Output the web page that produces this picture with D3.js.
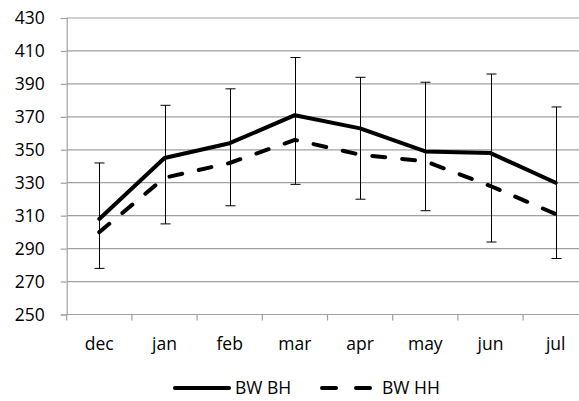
<!DOCTYPE html>
<html>
<head>
<meta charset="utf-8">
<script src="https://cdn.jsdelivr.net/npm/d3@7/dist/d3.min.js"></script>
<style>
  html, body { margin: 0; padding: 0; background: #fff; }
  svg { display: block; }
  text { font-family: "Open Sans", "Noto Sans", "Liberation Sans", sans-serif; fill: #000; }
</style>
</head>
<body>
<script>
// Monthly values for the two series and the whisker bounds per month
const months = ["dec", "jan", "feb", "mar", "apr", "may", "jun", "jul"];
const bwBH = [308, 345, 354, 371, 363, 349, 348, 330];
const bwHH = [300, 333, 342, 356, 347, 343, 328, 311];
const errHigh = [342, 377, 387, 406, 394, 391, 396, 376];
const errLow = [278, 305, 316, 329, 320, 313, 294, 284];
const yTicks = [250, 270, 290, 310, 330, 350, 370, 390, 410, 430];

const W = 579, H = 401;
const FONT = "'Open Sans', 'Noto Sans', sans-serif";
const FS = 17.5;
const svg = d3.select("body").append("svg").attr("width", W).attr("height", H);

const left = 66.7, bandW = 65.2;
const x = d3.scaleBand().domain(months).range([left, left + bandW * months.length]);
const y = d3.scaleLinear().domain([250, 430]).range([314.5, 18]);
const cx = m => x(m) + x.bandwidth() / 2;

// horizontal gridlines
svg.append("g").selectAll("line").data(yTicks.slice(1)).join("line")
  .attr("x1", left).attr("x2", W)
  .attr("y1", d => y(d)).attr("y2", d => y(d))
  .attr("stroke", "#a0a0a0").attr("stroke-width", 1.2);

// y axis
const yAxis = svg.append("g").attr("transform", `translate(${left},0)`)
  .call(d3.axisLeft(y).tickValues(yTicks).tickSize(6).tickPadding(16));
yAxis.select(".domain").attr("stroke", "#a0a0a0").attr("stroke-width", 1.2);
yAxis.selectAll(".tick line").attr("stroke", "#a0a0a0").attr("stroke-width", 1.2);
yAxis.selectAll("text").attr("font-size", FS).attr("font-family", FONT).attr("fill", "#111");

// x axis with ticks at category boundaries
const xAxisG = svg.append("g").attr("transform", `translate(0,${y(250)})`);
xAxisG.append("line").attr("x1", left).attr("x2", W).attr("y1", 0).attr("y2", 0)
  .attr("stroke", "#a0a0a0").attr("stroke-width", 1.2);
xAxisG.selectAll("line.tk").data(d3.range(months.length + 1)).join("line")
  .attr("class", "tk")
  .attr("x1", i => left + i * bandW).attr("x2", i => left + i * bandW)
  .attr("y1", 0).attr("y2", 6)
  .attr("stroke", "#a0a0a0").attr("stroke-width", 1.2);
xAxisG.selectAll("text").data(months).join("text")
  .attr("x", d => cx(d)).attr("y", 35)
  .attr("text-anchor", "middle").attr("font-size", FS).attr("fill", "#111").text(d => d);

// whiskers
const eb = svg.append("g").attr("stroke", "#000").attr("stroke-width", 1);
months.forEach((m, i) => {
  const px = Math.round(cx(m)) + 0.5;
  eb.append("line").attr("x1", px).attr("x2", px).attr("y1", y(errHigh[i])).attr("y2", y(errLow[i]));
  [errHigh[i], errLow[i]].forEach(v => {
    eb.append("line").attr("x1", px - 5).attr("x2", px + 5).attr("y1", y(v)).attr("y2", y(v));
  });
});

const line = d3.line().x((d, i) => cx(months[i])).y(d => y(d));

svg.append("path").datum(bwHH).attr("d", line)
  .attr("fill", "none").attr("stroke", "#000").attr("stroke-width", 4)
  .attr("stroke-dasharray", "13 17").attr("stroke-linecap", "round");

svg.append("path").datum(bwBH).attr("d", line)
  .attr("fill", "none").attr("stroke", "#000").attr("stroke-width", 4)
  .attr("stroke-linejoin", "round").attr("stroke-linecap", "round");

// legend
const lg = svg.append("g");
const ly = 388;
lg.append("line").attr("x1", 175).attr("x2", 229).attr("y1", ly).attr("y2", ly)
  .attr("stroke", "#000").attr("stroke-width", 4).attr("stroke-linecap", "round");
lg.append("text").attr("x", 235).attr("y", ly + 6).attr("font-size", FS).attr("fill", "#111").text("BW BH");
lg.append("line").attr("x1", 322).attr("x2", 370).attr("y1", ly).attr("y2", ly)
  .attr("stroke", "#000").attr("stroke-width", 4).attr("stroke-linecap", "round")
  .attr("stroke-dasharray", "14 20");
lg.append("text").attr("x", 382).attr("y", ly + 6).attr("font-size", FS).attr("fill", "#111").text("BW HH");
</script>
</body>
</html>
